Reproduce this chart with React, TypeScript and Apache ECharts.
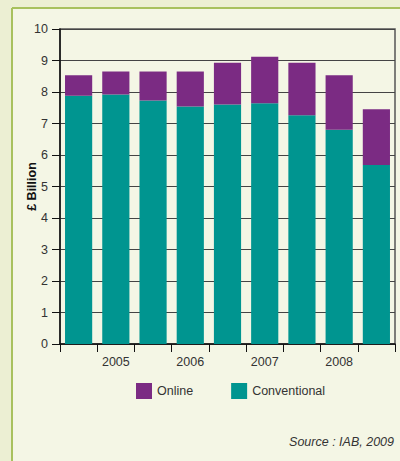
import React, { useEffect, useRef } from "react";
import * as echarts from "echarts";

const categories = ["", "2005", "", "2006", "", "2007", "", "2008", ""];
const conventional = [7.88, 7.92, 7.73, 7.54, 7.6, 7.64, 7.26, 6.8, 5.68];
const total = [8.53, 8.65, 8.65, 8.65, 8.93, 9.12, 8.93, 8.53, 7.45];
const online = total.map((t, i) => +(t - conventional[i]).toFixed(2));
const yTicks = { min: 0, max: 10, interval: 1 };

export default function App() {
  const ref = useRef<HTMLDivElement>(null);
  useEffect(() => {
    document.body.style.margin = "0";
    const chart = echarts.init(ref.current!, undefined, { renderer: "svg" });
    const font = "'Liberation Sans', Arial, sans-serif";
    chart.setOption({
      animation: false,
      backgroundColor: "#ecefd3",
      textStyle: { fontFamily: font },
      graphic: [
        { type: "rect", shape: { x: 12, y: 8, width: 400, height: 460 }, style: { fill: "#f4f6e5" }, z: -10 },
        { type: "line", shape: { x1: 12, y1: 8, x2: 400, y2: 8 }, style: { stroke: "#a8c15e", lineWidth: 2 }, z: -9 },
        { type: "line", shape: { x1: 12, y1: 8, x2: 12, y2: 461 }, style: { stroke: "#a8c15e", lineWidth: 2 }, z: -9 },
        {
          type: "text",
          right: 6,
          top: 435,
          style: { text: "Source : IAB, 2009", fill: "#333", font: `italic 12.5px ${font}` },
        },
      ],
      grid: {
        left: 60,
        right: 5,
        top: 29,
        bottom: 117,
        show: true,
        borderColor: "#555",
        borderWidth: 1.5,
        backgroundColor: "transparent",
      },
      legend: {
        data: ["Online", "Conventional"],
        left: 136,
        top: 383,
        padding: 0,
        itemWidth: 16,
        itemHeight: 16,
        itemGap: 38,
        icon: "rect",
        textStyle: { color: "#333", fontSize: 12.5, fontFamily: font },
      },
      xAxis: {
        type: "category",
        data: categories,
        axisLine: { lineStyle: { color: "#111", width: 1.5 } },
        axisTick: { show: true, length: 8, interval: 0, lineStyle: { color: "#111" } },
        axisLabel: { interval: 0, color: "#333", fontSize: 12.5, margin: 11, fontFamily: font },
      },
      yAxis: {
        type: "value",
        min: yTicks.min,
        max: yTicks.max,
        interval: yTicks.interval,
        name: "£ Billion",
        nameLocation: "middle",
        nameGap: 22,
        nameMoveOverlap: false,
        nameTextStyle: { color: "#111", fontWeight: "bold", fontSize: 12.5, fontFamily: font },
        axisLine: { show: true, lineStyle: { color: "#111", width: 1.5 } },
        axisTick: { show: true, length: 8, lineStyle: { color: "#111" } },
        axisLabel: { color: "#333", fontSize: 12.5, margin: 12, fontFamily: font },
        splitLine: { lineStyle: { color: "#444", width: 1.2 } },
      },
      series: [
        {
          name: "Conventional",
          type: "bar",
          stack: "total",
          data: conventional,
          barCategoryGap: "27%",
          itemStyle: { color: "#009590" },
        },
        {
          name: "Online",
          type: "bar",
          stack: "total",
          data: online,
          itemStyle: { color: "#7b2b83" },
        },
      ],
    });
    return () => chart.dispose();
  }, []);
  return <div ref={ref} style={{ width: 400, height: 461 }} />;
}
